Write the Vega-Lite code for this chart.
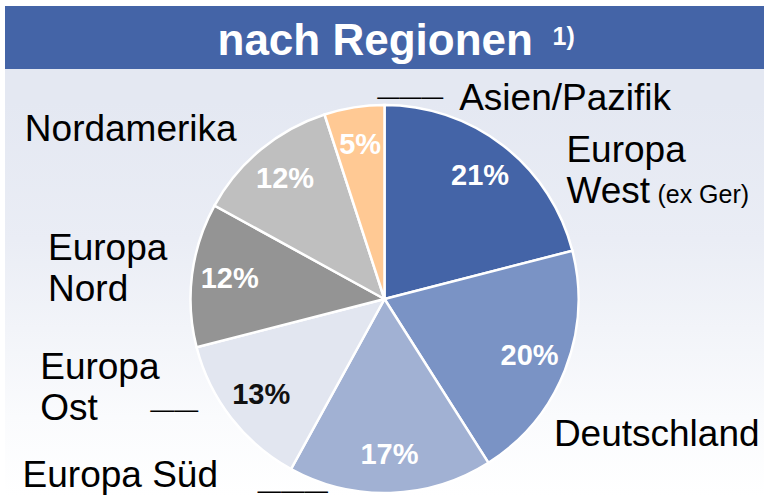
{
  "$schema": "https://vega.github.io/schema/vega-lite/v6.json",
  "padding": {"left": 5, "top": 6, "right": 0, "bottom": 0},
  "background": "white",
  "spacing": 0,
  "bounds": "flush",
  "config": {"view": {"stroke": null}, "text": {"font": "Liberation Sans, Arial, sans-serif"}},
  "datasets": {
    "regions": [
      {"region": "Europa West", "idx": 1, "value": 21, "pct": "21%", "label": ["Europa", "West"]},
      {"region": "Deutschland", "idx": 2, "value": 20, "pct": "20%", "label": "Deutschland"},
      {"region": "Europa Süd", "idx": 3, "value": 17, "pct": "17%", "label": "Europa Süd"},
      {"region": "Europa Ost", "idx": 4, "value": 13, "pct": "13%", "label": ["Europa", "Ost"]},
      {"region": "Europa Nord", "idx": 5, "value": 12, "pct": "12%", "label": ["Europa", "Nord"]},
      {"region": "Nordamerika", "idx": 6, "value": 12, "pct": "12%", "label": "Nordamerika"},
      {"region": "Asien/Pazifik", "idx": 7, "value": 5, "pct": "5%", "label": "Asien/Pazifik"}
    ]
  },
  "vconcat": [
    {
      "width": 759,
      "height": 96,
      "view": {
        "stroke": null,
        "fill": {"gradient": "linear", "x1": 0, "y1": 0, "x2": 0, "y2": 1,
          "stops": [
            {"offset": 0, "color": "#4464A7"},
            {"offset": 0.656, "color": "#4464A7"},
            {"offset": 0.657, "color": "#E4E8F2"},
            {"offset": 1, "color": "#E4E8F2"}
          ]}
      },
      "data": {"values": [{"t": "nach Regionen", "sup": "1)"}]},
      "layer": [
        {
          "mark": {"type": "text", "align": "left", "baseline": "alphabetic", "dx": -167, "dy": 1, "fontSize": 44, "fontWeight": "bold", "color": "white"},
          "encoding": {"text": {"field": "t", "type": "nominal"}}
        },
        {
          "mark": {"type": "text", "align": "left", "baseline": "alphabetic", "dx": 168, "dy": -9, "fontSize": 25, "fontWeight": "bold", "color": "white"},
          "encoding": {"text": {"field": "sup", "type": "nominal"}}
        }
      ]
    },
    {
      "width": 759,
      "height": 394,
      "view": {
        "stroke": null,
        "fill": {"gradient": "linear", "x1": 0, "y1": 0, "x2": 0, "y2": 1,
          "stops": [
            {"offset": 0, "color": "#E4E8F2"},
            {"offset": 0.35, "color": "#EAEDF5"},
            {"offset": 0.8, "color": "#FAFBFD"},
            {"offset": 1, "color": "#FFFFFF"}
          ]}
      },
      "data": {"name": "regions"},
      "transform": [
        {"stack": "value", "groupby": [], "sort": [{"field": "idx", "order": "ascending"}], "as": ["v0", "v1"]},
        {"calculate": "(datum.v0 + datum.v1) / 2", "as": "mid"}
      ],
      "layer": [
        {
          "mark": {"type": "arc", "outerRadius": 194, "stroke": "white", "strokeWidth": 2.5},
          "encoding": {
            "theta": {"field": "v0", "type": "quantitative", "stack": null, "scale": {"domain": [0, 100], "nice": false}},
            "theta2": {"field": "v1"},
            "color": {
              "field": "region", "type": "nominal", "legend": null,
              "scale": {
                "domain": ["Europa West", "Deutschland", "Europa Süd", "Europa Ost", "Europa Nord", "Nordamerika", "Asien/Pazifik"],
                "range": ["#4464A7", "#7A93C5", "#A1B1D3", "#E2E6F0", "#949494", "#BFBFBF", "#FFC994"]
              }
            }
          }
        },
        {
          "mark": {"type": "text", "radius": 156, "align": "center", "baseline": "middle", "fontSize": 29, "fontWeight": "bold"},
          "encoding": {
            "theta": {"field": "mid", "type": "quantitative", "scale": {"domain": [0, 100], "nice": false}},
            "text": {"field": "pct", "type": "nominal"},
            "color": {"condition": {"test": "datum.region === 'Europa Ost'", "value": "#111111"}, "value": "white"}
          }
        },
        {
          "transform": [{"filter": "datum.region === 'Europa West'"}],
          "mark": {"type": "text", "radius": 194, "align": "left", "baseline": "alphabetic", "dx": 63, "dy": 16, "fontSize": 37, "lineHeight": 41, "color": "black"},
          "encoding": {"theta": {"field": "mid", "type": "quantitative"}, "text": {"field": "label", "type": "nominal"}}
        },
        {
          "transform": [{"filter": "datum.region === 'Europa West'"}],
          "mark": {"type": "text", "radius": 194, "align": "left", "baseline": "alphabetic", "dx": 154, "dy": 57, "fontSize": 25, "color": "black", "text": "(ex Ger)"},
          "encoding": {"theta": {"field": "mid", "type": "quantitative"}}
        },
        {
          "transform": [{"filter": "datum.region === 'Deutschland'"}],
          "mark": {"type": "text", "radius": 194, "align": "left", "baseline": "alphabetic", "dx": -11, "dy": 76, "fontSize": 37, "color": "black"},
          "encoding": {"theta": {"field": "mid", "type": "quantitative"}, "text": {"field": "label", "type": "nominal"}}
        },
        {
          "transform": [{"filter": "datum.region === 'Europa Süd'"}],
          "mark": {"type": "text", "radius": 194, "align": "left", "baseline": "alphabetic", "dx": -368, "dy": -6, "fontSize": 37, "color": "black", "clip": true},
          "encoding": {"theta": {"field": "mid", "type": "quantitative"}, "text": {"field": "label", "type": "nominal"}}
        },
        {
          "transform": [{"filter": "datum.region === 'Europa Süd'"}],
          "mark": {"type": "text", "radius": 194, "align": "left", "baseline": "alphabetic", "dx": -133, "dy": 5, "fontSize": 23.5, "color": "black", "clip": true, "text": "———"},
          "encoding": {"theta": {"field": "mid", "type": "quantitative"}}
        },
        {
          "transform": [{"filter": "datum.region === 'Europa Ost'"}],
          "mark": {"type": "text", "radius": 194, "align": "left", "baseline": "alphabetic", "dx": -191, "dy": -39, "fontSize": 37, "lineHeight": 41, "color": "black"},
          "encoding": {"theta": {"field": "mid", "type": "quantitative"}, "text": {"field": "label", "type": "nominal"}}
        },
        {
          "transform": [{"filter": "datum.region === 'Europa Ost'"}],
          "mark": {"type": "text", "radius": 194, "align": "left", "baseline": "alphabetic", "dx": -81, "dy": -1, "fontSize": 24, "color": "black", "text": "——"},
          "encoding": {"theta": {"field": "mid", "type": "quantitative"}}
        },
        {
          "transform": [{"filter": "datum.region === 'Europa Nord'"}],
          "mark": {"type": "text", "radius": 194, "align": "left", "baseline": "alphabetic", "dx": -144, "dy": -15, "fontSize": 37, "lineHeight": 41, "color": "black"},
          "encoding": {"theta": {"field": "mid", "type": "quantitative"}, "text": {"field": "label", "type": "nominal"}}
        },
        {
          "transform": [{"filter": "datum.region === 'Nordamerika'"}],
          "mark": {"type": "text", "radius": 194, "align": "left", "baseline": "alphabetic", "dx": -236, "dy": -9, "fontSize": 37, "color": "black"},
          "encoding": {"theta": {"field": "mid", "type": "quantitative"}, "text": {"field": "label", "type": "nominal"}}
        },
        {
          "transform": [{"filter": "datum.region === 'Asien/Pazifik'"}],
          "mark": {"type": "text", "radius": 194, "align": "left", "baseline": "alphabetic", "dx": 105, "dy": 3, "fontSize": 37, "color": "black"},
          "encoding": {"theta": {"field": "mid", "type": "quantitative"}, "text": {"field": "label", "type": "nominal"}}
        },
        {
          "transform": [{"filter": "datum.region === 'Asien/Pazifik'"}],
          "mark": {"type": "text", "radius": 194, "align": "left", "baseline": "alphabetic", "dx": 23, "dy": -3, "fontSize": 22, "color": "black", "text": "———"},
          "encoding": {"theta": {"field": "mid", "type": "quantitative"}}
        }
      ]
    }
  ]
}
